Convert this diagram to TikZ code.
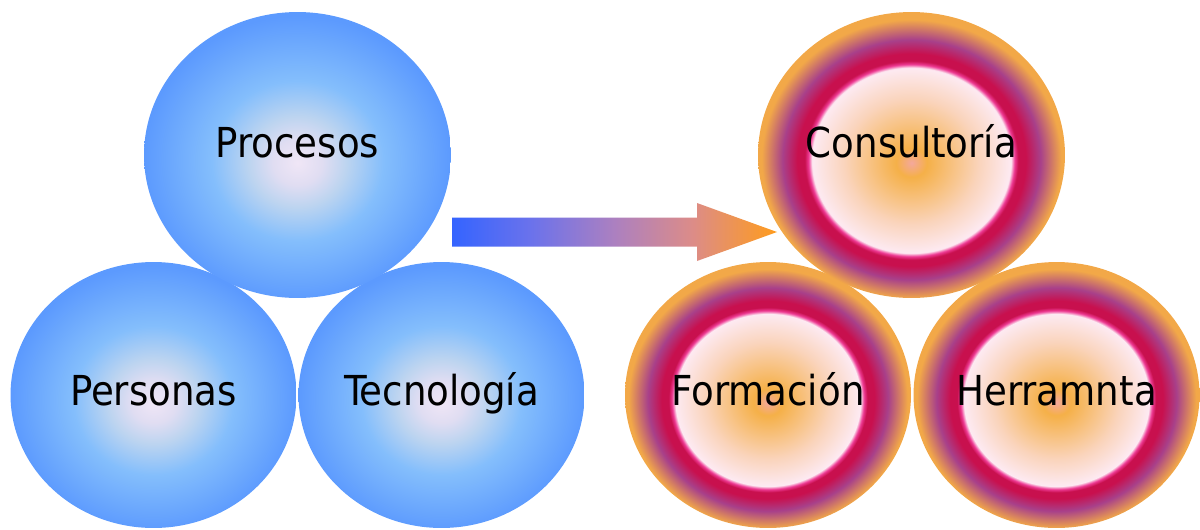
\documentclass[tikz,border=0pt]{standalone}
\usepackage{fontspec}
\setmainfont{DejaVu Sans Condensed}
\usetikzlibrary{shapes.geometric}

\definecolor{azulcentro}{HTML}{F0E6F6}
\definecolor{azulpalido}{HTML}{E0DDF2}
\definecolor{azulgris}{HTML}{BCD4F0}
\definecolor{azulclaro}{HTML}{84BEFC}
\definecolor{azulborde}{HTML}{5C9AFE}
\definecolor{rosacentro}{HTML}{F4A89C}
\definecolor{naranja}{HTML}{F5B048}
\definecolor{melocoton}{HTML}{FAD4BC}
\definecolor{rosablanco}{HTML}{FDEAF2}
\definecolor{rosafuerte}{HTML}{EE3A94}
\definecolor{carmin}{HTML}{C8104E}
\definecolor{morado}{HTML}{A8408A}
\definecolor{naranjaborde}{HTML}{F2A848}
\definecolor{flechaazul}{HTML}{3464FF}
\definecolor{flechalila}{HTML}{6A72EC}
\definecolor{flechamalva}{HTML}{AC80C0}
\definecolor{flecharosa}{HTML}{DC8C88}
\definecolor{flechanaranja}{HTML}{FF9C1C}

\pgfdeclareradialshading{bolaazul}{\pgfpoint{0bp}{-1.4bp}}{color(0bp)=(azulcentro); color(4bp)=(azulpalido); color(8bp)=(azulgris); color(14bp)=(azulclaro); color(25bp)=(azulborde); color(50bp)=(azulborde)}
\pgfdeclareradialshading{anillo}{\pgfpoint{0bp}{-1.4bp}}{color(0bp)=(rosacentro); color(2.5bp)=(naranja); color(11bp)=(melocoton); color(16.2bp)=(rosablanco); color(16.8bp)=(rosafuerte); color(17.4bp)=(carmin); color(18.6bp)=(carmin); color(21bp)=(morado); color(24.4bp)=(naranjaborde); color(50bp)=(naranjaborde)}
\pgfdeclarehorizontalshading{flechagrad}{100bp}{color(0bp)=(flechaazul); color(25bp)=(flechaazul); color(37bp)=(flechalila); color(50bp)=(flechamalva); color(62bp)=(flecharosa); color(75bp)=(flechanaranja); color(100bp)=(flechanaranja)}

\tikzset{
  bola/.style={ellipse, inner sep=0pt, minimum width=5.72cm, minimum height=5.32cm},
  grande/.style={minimum width=6.14cm, minimum height=5.72cm},
  texto/.style={anchor=base, inner sep=0pt, font=\fontsize{23.5}{28}\selectfont}
}

\begin{document}
\begin{tikzpicture}[x=0.02cm, y=-0.02cm]
            \useasboundingbox (0,0) rectangle (1200,529);

            \node[bola, shading=bolaazul] (personas) at (153.5,395) {};
            \node[bola, shading=bolaazul] (tecnologia) at (441.5,395) {};
            \node[bola, grande, shading=bolaazul] (procesos) at (297.5,155) {};

            \node[bola, shading=anillo] (formacion) at (768,395) {};
            \node[bola, shading=anillo] (herramnta) at (1056.5,395) {};
            \node[bola, grande, shading=anillo] (consultoria) at (911.5,155) {};

            \node[texto] (tprocesos) at (297.5,157) {Procesos};
            \node[texto] (tpersonas) at (153.5,405) {Personas};
            \node[texto] (ttecnologia) at (441.5,405) {Tecnología};
            \node[texto] (tconsultoria) at (911.5,157) {Consultoría};
            \node[texto] (tformacion) at (768,405) {Formación};
            \node[texto] (therramnta) at (1056.5,405) {Herramnta};

            \coordinate (cola) at (452,232);
            \coordinate (punta) at (777,232);
            \shade[shading=flechagrad] (cola) ++(0,-14.5) -- ++(245,0) -- ++(0,-14.5) -- (punta)
                -- ++(-80,29) -- ++(0,-14.5) -- ++(-245,0) -- cycle;
        \end{tikzpicture}
\end{document}
